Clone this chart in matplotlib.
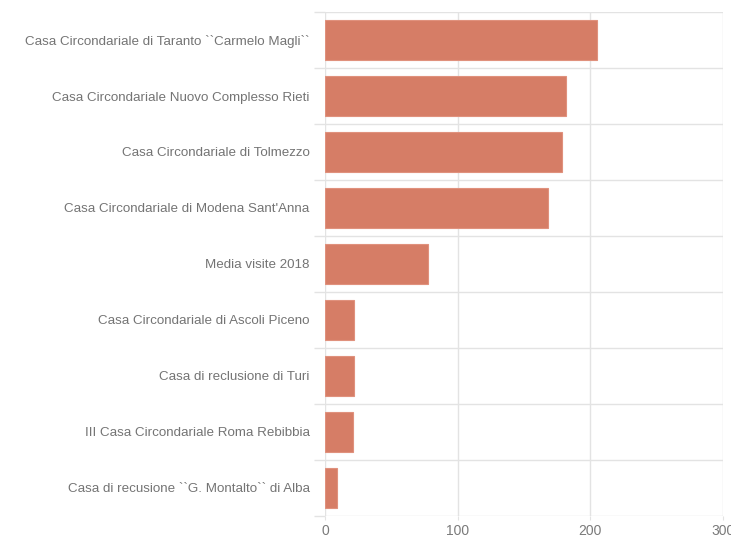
import matplotlib
matplotlib.use("Agg")
import matplotlib.pyplot as plt
import numpy as np

categories = [
    "Casa Circondariale di Taranto ``Carmelo Magli``",
    "Casa Circondariale Nuovo Complesso Rieti",
    "Casa Circondariale di Tolmezzo",
    "Casa Circondariale di Modena Sant'Anna",
    "Media visite 2018",
    "Casa Circondariale di Ascoli Piceno",
    "Casa di reclusione di Turi",
    "III Casa Circondariale Roma Rebibbia",
    "Casa di recusione ``G. Montalto`` di Alba",
]
values = [205, 182, 179, 168, 78, 22, 22, 21, 9]
xticks = [0, 100, 200, 300]

plt.rcParams['font.family'] = ['Liberation Sans', 'DejaVu Sans']

W, H = 731, 542
fig = plt.figure(figsize=(W / 100, H / 100), dpi=100)
ax = fig.add_axes([325 / W, 1 - 516 / H, (723 - 325) / W, (516 - 12) / H])

y = np.arange(len(categories))
ax.barh(y, values, height=0.71, color="#d67d66", edgecolor="#e0917d", linewidth=0.8, zorder=2)

ax.set_xlim(0, 300)
ax.set_ylim(len(categories) - 0.5, -0.5)
ax.set_xticks(xticks)
ax.set_xticklabels([str(t) for t in xticks])
ax.set_yticks(y)
ax.set_yticklabels(categories)
ax.set_yticks(np.arange(-0.5, len(categories), 1.0), minor=True)

grid_c = "#e3e3e3"
ax.grid(axis="x", color=grid_c, linewidth=1.0, zorder=0)
ax.grid(axis="y", which="minor", color=grid_c, linewidth=1.0, zorder=0)
ax.grid(axis="y", which="major", visible=False)

for s in ax.spines.values():
    s.set_visible(False)

ax.tick_params(axis="y", which="major", length=0, pad=11, labelsize=9.6, labelcolor="#747474")
ax.tick_params(axis="y", which="minor", length=8, color=grid_c, width=1.0)
ax.tick_params(axis="x", which="major", length=3, color=grid_c, pad=3, labelsize=10, labelcolor="#7a7a7a")

fig.savefig("out.png", dpi=100, facecolor="white")
